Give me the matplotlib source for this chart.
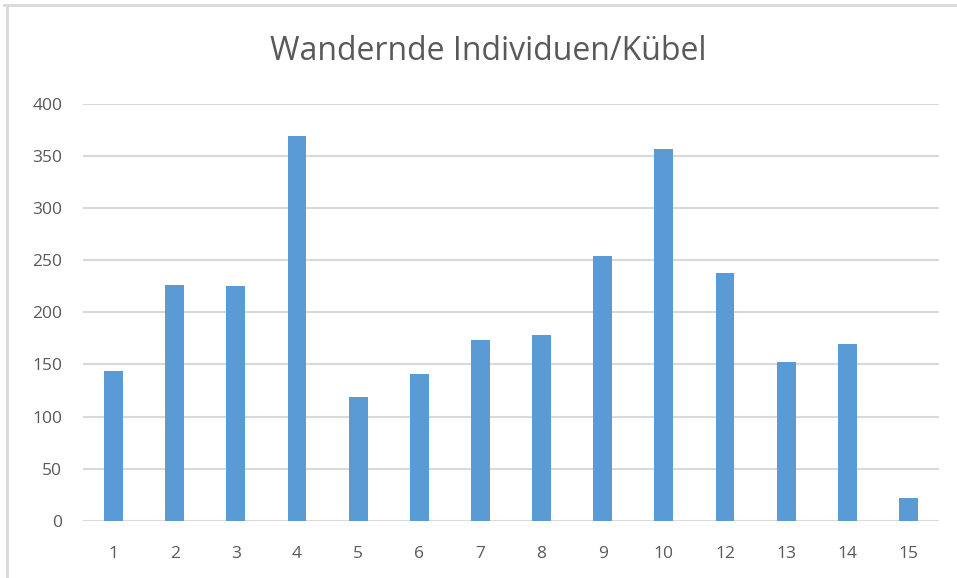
import matplotlib
matplotlib.use("Agg")
import matplotlib.pyplot as plt
from matplotlib.lines import Line2D

categories = ["1", "2", "3", "4", "5", "6", "7", "8", "9", "10", "12", "13", "14", "15"]
values = [144, 226, 225, 369, 119, 141, 173, 178, 254, 357, 238, 152, 170, 22]
yticks = [0, 50, 100, 150, 200, 250, 300, 350, 400]
title = "Wandernde Individuen/Kübel"

plt.rcParams['font.family'] = ['Open Sans', 'DejaVu Sans']

W, H = 957, 578
fig = plt.figure(figsize=(W / 100, H / 100), dpi=100)
fig.patch.set_facecolor("white")

ax = fig.add_axes([83 / W, 1 - 520.7 / H, (939 - 83) / W, (520.7 - 104) / H])
x = list(range(len(categories)))
ax.bar(x, values, width=0.31, color="#5B9BD5", zorder=3)
ax.set_xlim(-0.5, len(categories) - 0.5)
ax.set_ylim(0, 400)
ax.set_yticks(yticks)
ax.set_xticks(x)
ax.set_xticklabels(categories)
for s in ax.spines.values():
    s.set_visible(False)
ax.grid(axis="y", color="#D9D9D9", linewidth=1.5, zorder=0)
ax.set_axisbelow(True)
ax.tick_params(axis="both", length=0, colors="#595959", labelsize=12.5)
ax.tick_params(axis="y", pad=15)
ax.tick_params(axis="x", pad=18)
for lbl in ax.get_xticklabels() + ax.get_yticklabels():
    lbl.set_color("#595959")

fig.text(488 / W, 1 - 51 / H, title, ha="center", va="center", fontsize=23,
         color="#595959")

# outer border lines (top and left)
fig.add_artist(Line2D([4 / W, 1], [1 - 5 / H, 1 - 5 / H], color="#D9D9D9", linewidth=2,
                      transform=fig.transFigure))
fig.add_artist(Line2D([7 / W, 7 / W], [0, 1 - 5 / H], color="#D9D9D9", linewidth=2,
                      transform=fig.transFigure))

fig.savefig("out.png", dpi=100, facecolor="white")
